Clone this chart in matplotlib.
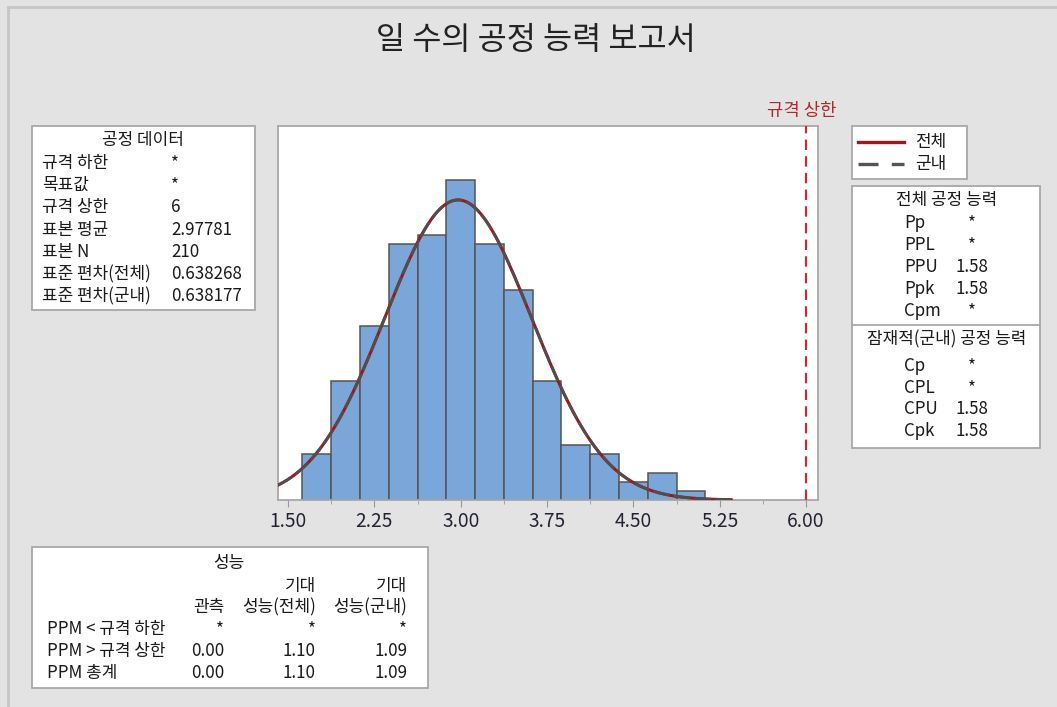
import numpy as np
import matplotlib
matplotlib.use("Agg")
import matplotlib.pyplot as plt
from matplotlib.patches import Rectangle
from matplotlib.lines import Line2D

plt.rcParams['font.family'] = ['Noto Sans CJK KR', 'DejaVu Sans']

# ---------------- data ----------------
bin_centers = [1.75, 2.00, 2.25, 2.50, 2.75, 3.00, 3.25, 3.50, 3.75, 4.00, 4.25, 4.50, 4.75, 5.00]
counts = [5, 13, 19, 28, 29, 35, 28, 23, 13, 6, 5, 2, 3, 1]
bin_width = 0.25
usl = 6.0
mean = 2.97781
sd_overall = 0.638268
sd_within = 0.638177
n = 210
xticks = [1.50, 2.25, 3.00, 3.75, 4.50, 5.25, 6.00]
xtick_labels = ["1.50", "2.25", "3.00", "3.75", "4.50", "5.25", "6.00"]
curve_range = (1.413, 5.35)

title = "일 수의 공정 능력 보고서"
proc_labels = ["규격 하한", "목표값", "규격 상한", "표본 평균", "표본 N", "표준 편차(전체)", "표준 편차(군내)"]
proc_values = ["*", "*", "6", "2.97781", "210", "0.638268", "0.638177"]
overall_labels = ["Pp", "PPL", "PPU", "Ppk", "Cpm"]
overall_values = ["*", "*", "1.58", "1.58", "*"]
within_labels = ["Cp", "CPL", "CPU", "Cpk"]
within_values = ["*", "*", "1.58", "1.58"]
perf_rows = ["PPM < 규격 하한", "PPM > 규격 상한", "PPM 총계"]
perf_obs = ["*", "0.00", "0.00"]
perf_exp_overall = ["*", "1.10", "1.10"]
perf_exp_within = ["*", "1.09", "1.09"]

# ---------------- figure ----------------
W, H = 1057, 707
fig = plt.figure(figsize=(W / 100, H / 100), dpi=100)
fig.patch.set_facecolor('#e3e3e3')

def fx(x):
    return x / W

def fy(y):
    return 1 - y / H

def ftext(x, y, s, **kw):
    kw.setdefault('fontsize', 12.2)
    kw.setdefault('color', '#1a1a1a')
    kw.setdefault('va', 'center')
    fig.text(fx(x), fy(y), s, **kw)

def fbox(x0, y0, x1, y1):
    fig.patches.append(Rectangle((fx(x0), fy(y1)), fx(x1) - fx(x0), fy(y0) - fy(y1),
                                 transform=fig.transFigure, facecolor='white',
                                 edgecolor='#a8a8a8', lw=1.3, zorder=1))

# outer border (left / top)
fig.add_artist(Line2D([fx(8), fx(8)], [fy(7), 0], transform=fig.transFigure, color='#c6c6c6', lw=2))
fig.add_artist(Line2D([fx(8), 1], [fy(7), fy(7)], transform=fig.transFigure, color='#c6c6c6', lw=2))

# title
ftext(536, 40, title, fontsize=22.8, ha='center', color='#222222')

# ---------------- histogram axes ----------------
ax = fig.add_axes([fx(278), fy(500), fx(818) - fx(278), fy(126) - fy(500)])
ax.set_facecolor('white')
ax.bar(bin_centers, counts, width=bin_width, color='#7ba6d9', edgecolor='#555555', lw=1.1, zorder=2)

xs = np.linspace(curve_range[0], curve_range[1], 400)
scale = n * bin_width
pdf_o = scale * np.exp(-0.5 * ((xs - mean) / sd_overall) ** 2) / (sd_overall * np.sqrt(2 * np.pi))
pdf_w = scale * np.exp(-0.5 * ((xs - mean) / sd_within) ** 2) / (sd_within * np.sqrt(2 * np.pi))
ax.plot(xs, pdf_o, color='#a31616', lw=2.2, zorder=3)
ax.plot(xs, pdf_w, color='#4f4f4f', lw=2.0, dashes=(6, 1.5), zorder=4)

ax.axvline(usl, color='#e02424', lw=1.5, ls=(0, (5, 3)), zorder=5)

ax.set_xlim(1.413, 6.104)
ax.set_ylim(0, 40.9)
ax.set_xticks(xticks)
ax.set_xticklabels(xtick_labels)
ax.set_xticks([(a + b) / 2 for a, b in zip(xticks[:-1], xticks[1:])], minor=True)
ax.tick_params(axis='x', which='major', length=5, color='#999999', labelsize=13.8,
               labelcolor='#222233', pad=3)
ax.tick_params(axis='x', which='minor', length=3, color='#999999')
ax.set_yticks([])
for sp in ax.spines.values():
    sp.set_color('#a8a8a8')
    sp.set_linewidth(1.3)

ftext(802, 111, "규격 상한", fontsize=12.8, ha='center', color='#b0282a')

# ---------------- process data box ----------------
fbox(32, 126, 255, 310)
ftext(143, 140, "공정 데이터", ha='center')
for i, (lab, val) in enumerate(zip(proc_labels, proc_values)):
    y = 163 + i * 22.2
    ftext(42, y, lab)
    ftext(171, y, val)

# ---------------- legend box ----------------
fbox(852, 126, 967, 179)
fig.add_artist(Line2D([fx(858), fx(904)], [fy(142), fy(142)], transform=fig.transFigure,
                      color='#a31616', lw=2.4))
fig.add_artist(Line2D([fx(858), fx(904)], [fy(164), fy(164)], transform=fig.transFigure,
                      color='#555555', lw=2.4, dashes=(6, 4)))
ftext(915, 142, "전체")
ftext(915, 164, "군내")

# ---------------- capability box ----------------
fbox(852, 186, 1040, 448)
fig.add_artist(Line2D([fx(852), fx(1040)], [fy(325), fy(325)], transform=fig.transFigure,
                      color='#a8a8a8', lw=1.3))
ftext(947, 200, "전체 공정 능력", ha='center')
for i, (lab, val) in enumerate(zip(overall_labels, overall_values)):
    y = 223 + i * 22
    ftext(904, y, lab)
    ftext(972, y, val, ha='center')
ftext(947, 339, "잠재적(군내) 공정 능력", ha='center')
for i, (lab, val) in enumerate(zip(within_labels, within_values)):
    y = 366 + i * 21.7
    ftext(904, y, lab)
    ftext(972, y, val, ha='center')

# ---------------- performance box ----------------
fbox(32, 547, 428, 688)
ftext(229, 563, "성능", ha='center')
ftext(316, 586, "기대", ha='right')
ftext(407, 586, "기대", ha='right')
ftext(224, 607, "관측", ha='right')
ftext(316, 607, "성능(전체)", ha='right')
ftext(407, 607, "성능(군내)", ha='right')
for i, lab in enumerate(perf_rows):
    y = 629 + i * 22
    ftext(47, y, lab)
    ftext(224, y, perf_obs[i], ha='right')
    ftext(316, y, perf_exp_overall[i], ha='right')
    ftext(407, y, perf_exp_within[i], ha='right')

fig.savefig("out.png", dpi=100, facecolor=fig.get_facecolor())
